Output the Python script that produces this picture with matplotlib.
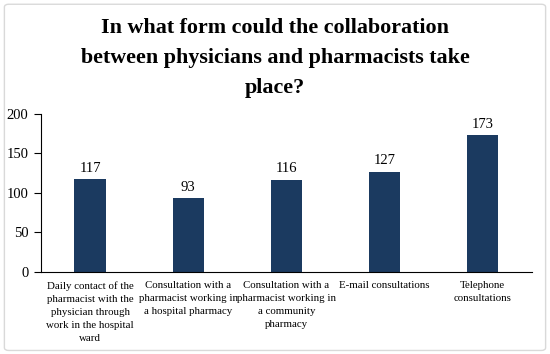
import matplotlib.pyplot as plt
from matplotlib.patches import FancyBboxPatch

categories = ['Daily contact of the\npharmacist with the\nphysician through\nwork in the hospital\nward',
              'Consultation with a\npharmacist working in\na hospital pharmacy',
              'Consultation with a\npharmacist working in\na community\npharmacy',
              'E-mail consultations',
              'Telephone\nconsultations']
counts = [117, 93, 116, 127, 173]
yticks = [0, 50, 100, 150, 200]

plt.rcParams['font.family'] = ['Liberation Serif', 'DejaVu Serif']

fig = plt.figure(figsize=(5.5, 3.54), dpi=100)
fig.patches.append(FancyBboxPatch((0.008, 0.01), 0.984, 0.978, boxstyle='round,pad=0,rounding_size=0.008',
                                  transform=fig.transFigure, facecolor='none', edgecolor='#d9d9d9', lw=1))
ax = fig.add_axes([0.0745, 0.2325, 0.8925, 0.4455])

x = range(len(categories))
bars = ax.bar(x, counts, width=0.32, color='#1b3a60')
for xi, v in zip(x, counts):
    ax.text(xi, v + 6, str(v), ha='center', va='bottom', fontsize=10.5)

ax.set_xlim(-0.5, 4.5)
ax.set_ylim(0, 200)
ax.set_yticks(yticks)
ax.set_xticks(list(x))
ax.set_xticklabels(categories, fontsize=7.8, linespacing=1.55)
ax.tick_params(axis='x', length=0, pad=7)
ax.tick_params(axis='y', length=5, labelsize=10.5, direction='out', pad=4)
ax.spines['top'].set_visible(False)
ax.spines['right'].set_visible(False)
ax.patch.set_alpha(0)

fig.text(0.5, 0.949, 'In what form could the collaboration\nbetween physicians and pharmacists take\nplace?',
         ha='center', va='top', fontsize=15.8, fontweight='bold', linespacing=1.66)

fig.savefig('out.png', dpi=100)
